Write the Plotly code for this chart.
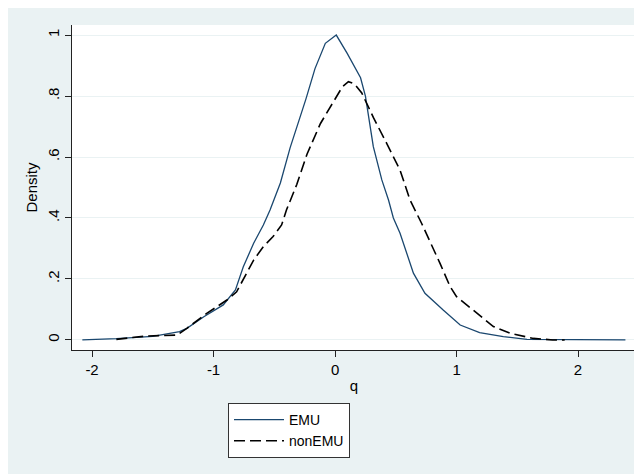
import plotly.graph_objects as go

# EMU kernel density
emu_q = [-2.08, -1.8, -1.5, -1.28, -1.22, -1.08, -0.92, -0.82, -0.755, -0.67, -0.59, -0.535,
         -0.45, -0.37, -0.24, -0.165, -0.08, 0.01, 0.10, 0.21, 0.25, 0.315, 0.385, 0.44,
         0.48, 0.535, 0.645, 0.74, 0.89, 1.03, 1.19, 1.385, 1.58, 2.0, 2.39]
emu_d = [0.0, 0.004, 0.012, 0.027, 0.038, 0.076, 0.115, 0.164, 0.24, 0.317, 0.377, 0.426,
         0.515, 0.63, 0.79, 0.89, 0.973, 1.0, 0.94, 0.86, 0.80, 0.634, 0.525, 0.459,
         0.40, 0.35, 0.219, 0.153, 0.098, 0.049, 0.024, 0.011, 0.002, 0.0, 0.0]

# nonEMU kernel density
non_q = [-1.80, -1.55, -1.30, -1.22, -1.056, -0.89, -0.81, -0.755, -0.67, -0.59, -0.51,
         -0.44, -0.40, -0.315, -0.23, -0.12, 0.0, 0.06, 0.11, 0.16, 0.22, 0.315, 0.425,
         0.535, 0.617, 0.713, 0.864, 0.947, 1.0, 1.138, 1.303, 1.44, 1.632, 1.79, 1.89]
non_d = [0.002, 0.013, 0.016, 0.038, 0.087, 0.131, 0.158, 0.197, 0.262, 0.306, 0.339,
         0.377, 0.426, 0.51, 0.61, 0.71, 0.79, 0.83, 0.847, 0.84, 0.81, 0.73, 0.645,
         0.557, 0.459, 0.382, 0.251, 0.175, 0.142, 0.098, 0.044, 0.022, 0.005, 0.0, 0.0]

x_ticks = [-2, -1, 0, 1, 2]
x_labels = ["-2", "-1", "0", "1", "2"]
y_ticks = [0, 0.2, 0.4, 0.6, 0.8, 1]
y_labels = ["0", ".2", ".4", ".6", ".8", "1"]

BG = "#EAF2F3"
FONT = "Liberation Sans, Arial, Helvetica, sans-serif"
AX = "#222222"

fig = go.Figure()
fig.add_trace(go.Scatter(x=emu_q, y=emu_d, mode="lines", name="EMU",
                         line=dict(color="#1A476F", width=1.3)))
fig.add_trace(go.Scatter(x=non_q, y=non_d, mode="lines", name="nonEMU",
                         line=dict(color="black", width=1.6, dash="11px,5px")))

# page is offset by the 8px body margin; layout in figure coordinates
OFF = 8
W, H = 642, 474
L, T = 72 - OFF, 25 - OFF
R = W - (636 - OFF)
B = H - (350 - OFF)
pw, ph = W - L - R, H - T - B

def px_x(p):
    return (p - OFF - L) / pw

def px_y(p):
    return (H - B - (p - OFF)) / ph

fig.update_layout(
    width=W, height=H,
    margin=dict(l=L, r=R, t=T, b=B),
    paper_bgcolor=BG, plot_bgcolor="white",
    font=dict(family=FONT, size=15, color="black"),
    showlegend=True,
    legend=dict(x=px_x(228), y=px_y(403), xanchor="left", yanchor="top",
                bgcolor="white", bordercolor="#333333", borderwidth=1,
                font=dict(size=14), itemwidth=50, tracegroupgap=0),
)

fig.update_xaxes(range=[-2.165, 2.477], tickvals=x_ticks, ticktext=x_labels,
                 ticks="outside", ticklen=6,
                 tickcolor=AX, showline=True, linecolor=AX, linewidth=1,
                 showgrid=False, zeroline=False, tickfont=dict(size=15),
                 title=dict(text="q", font=dict(size=15), standoff=3))
fig.update_yaxes(range=[-0.033, 1.033], tickvals=y_ticks, ticktext=y_labels,
                 tickangle=-90, ticks="outside", ticklen=6, tickcolor=AX,
                 ticklabelstandoff=0, tickfont=dict(size=15),
                 showline=True, linecolor=AX, linewidth=1,
                 showgrid=True, gridcolor=BG, gridwidth=1, zeroline=False,
                 title=dict(text="Density", font=dict(size=15), standoff=3))

fig.write_html("out.html")
